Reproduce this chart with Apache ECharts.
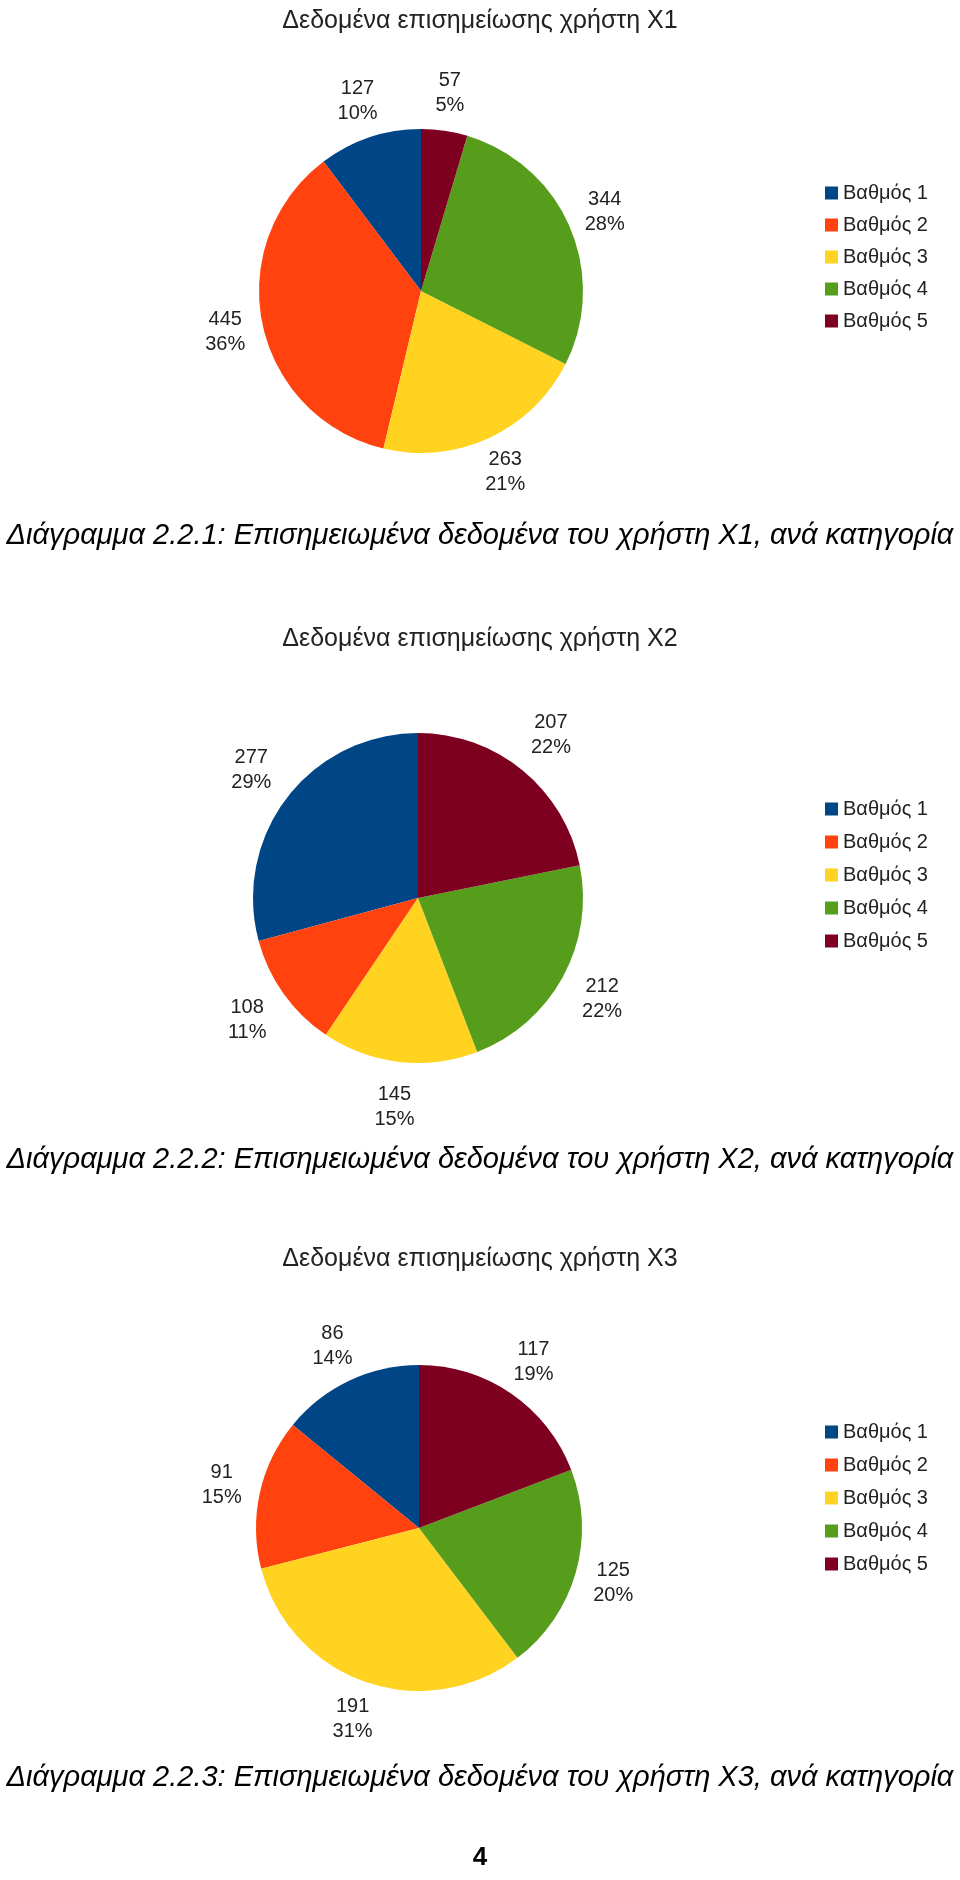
<!DOCTYPE html>
<html>
<head>
<meta charset="utf-8">
<script src="https://cdn.jsdelivr.net/npm/echarts@6/dist/echarts.min.js"></script>
<style>
html,body{margin:0;padding:0;background:#fff;}
#chart{width:960px;height:1880px;}
</style>
</head>
<body>
<div id="chart"></div>
<script>
var categories = ['Βαθμός 1', 'Βαθμός 2', 'Βαθμός 3', 'Βαθμός 4', 'Βαθμός 5'];
var valuesX1 = [127, 445, 263, 344, 57];
var valuesX2 = [277, 108, 145, 212, 207];
var valuesX3 = [86, 91, 191, 125, 117];
var chartTitles = ['Δεδομένα επισημείωσης χρήστη X1', 'Δεδομένα επισημείωσης χρήστη X2', 'Δεδομένα επισημείωσης χρήστη X3'];
var captions = [
  'Διάγραμμα 2.2.1: Επισημειωμένα δεδομένα του χρήστη X1, ανά κατηγορία',
  'Διάγραμμα 2.2.2: Επισημειωμένα δεδομένα του χρήστη X2, ανά κατηγορία',
  'Διάγραμμα 2.2.3: Επισημειωμένα δεδομένα του χρήστη X3, ανά κατηγορία'
];
var pageNumber = '4';
var colors = ['#004586', '#ff420e', '#ffd320', '#579d1c', '#7e0021'];

var allValues = [valuesX1, valuesX2, valuesX3];
var layout = [
  {titleY: 21, center: [421, 291], radius: 162, labelR: 197, legendTop: 178, legendGap: 12, captionY: 536},
  {titleY: 639, center: [418, 898], radius: 165, labelR: 207, legendTop: 794, legendGap: 13, captionY: 1160},
  {titleY: 1259, center: [419, 1528], radius: 163, labelR: 199, legendTop: 1417, legendGap: 13, captionY: 1778}
];

var font = 'Liberation Sans, Arial, sans-serif';
var chart = echarts.init(document.getElementById('chart'), null, {renderer: 'canvas'});

var legends = [], series = [], graphics = [];
layout.forEach(function (L, i) {
  graphics.push({
    type: 'text', x: 480, y: L.titleY,
    style: {text: chartTitles[i], fontFamily: font, fontSize: 25, fill: '#222', align: 'center', verticalAlign: 'middle'}
  });
  legends.push({
    data: categories.map(function (c, k) { return {name: c, itemStyle: {color: colors[k]}}; }),
    orient: 'vertical', left: 820, top: L.legendTop,
    icon: 'rect', itemWidth: 13, itemHeight: 13, itemGap: L.legendGap,
    selectedMode: false,
    textStyle: {fontFamily: font, fontSize: 20, color: '#222'}
  });
  series.push({
    type: 'pie', center: L.center, radius: L.radius,
    startAngle: 90, clockwise: false, animation: false,
    itemStyle: {borderWidth: 0},
    label: {show: false},
    labelLine: {show: false},
    emphasis: {disabled: true},
    data: categories.map(function (c, k) {
      return {name: c, value: allValues[i][k], itemStyle: {color: colors[k]}};
    })
  });
  // transparent ring that carries the value/percent labels, centred on each slice's mid-angle
  series.push({
    type: 'pie', center: L.center, radius: [L.radius, 2 * L.labelR - L.radius],
    startAngle: 90, clockwise: false, animation: false, silent: true,
    legendHoverLink: false,
    itemStyle: {color: 'rgba(0,0,0,0)', borderWidth: 0},
    label: {
      show: true, position: 'inside', rotate: 0,
      fontFamily: font, fontSize: 20, color: '#222', lineHeight: 25,
      formatter: function (p) { return p.value + '\n' + Math.round(p.percent) + '%'; }
    },
    labelLine: {show: false},
    emphasis: {disabled: true},
    data: categories.map(function (c, k) {
      return {name: c, value: allValues[i][k], itemStyle: {color: 'rgba(0,0,0,0)'}};
    })
  });
  graphics.push({
    type: 'text', x: 480, y: L.captionY,
    style: {text: captions[i], fontFamily: font, fontStyle: 'italic', fontSize: 29, fill: '#000', align: 'center', verticalAlign: 'middle'}
  });
});
graphics.push({
  type: 'text', x: 480, y: 1858,
  style: {text: pageNumber, fontFamily: font, fontWeight: 'bold', fontSize: 26, fill: '#000', align: 'center', verticalAlign: 'middle'}
});

chart.setOption({
  backgroundColor: '#fff',
  animation: false,
  legend: legends,
  series: series,
  graphic: graphics
});
</script>
</body>
</html>
